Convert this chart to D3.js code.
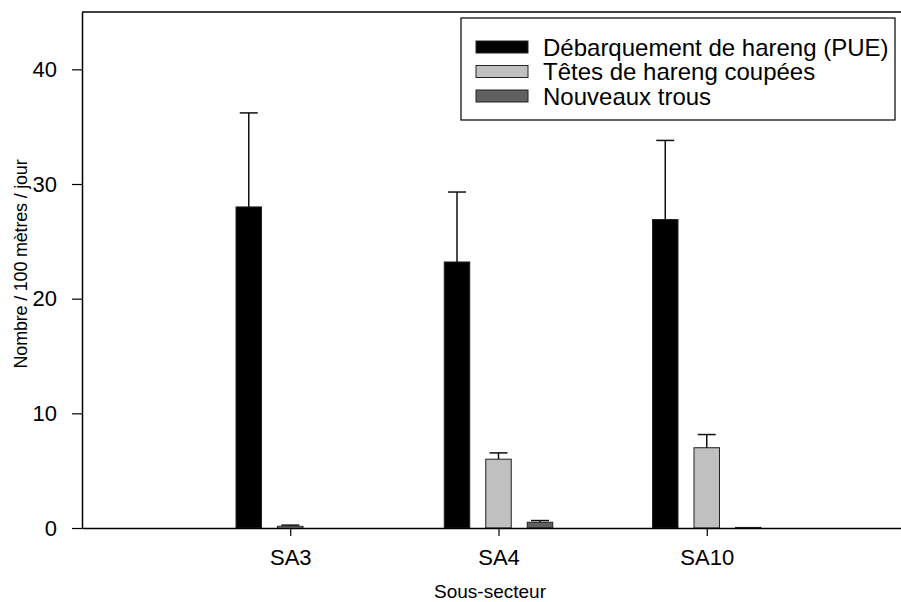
<!DOCTYPE html>
<html>
<head>
<meta charset="utf-8">
<script src="https://cdn.jsdelivr.net/npm/d3@7"></script>
<style>
  html, body { margin: 0; padding: 0; background: #fff; }
  svg { display: block; font-family: Arial, "Liberation Sans", sans-serif; }
</style>
</head>
<body>
<svg id="chart" width="901" height="602"></svg>
<script>
// Sub-areas and the three measured series (mean and upper error)
const categories = ["SA3", "SA4", "SA10"];
const seriesNames = ["Débarquement de hareng (PUE)", "Têtes de hareng coupées", "Nouveaux trous"];
const landings = [28.0, 23.2, 26.9];
const landingsErr = [8.2, 6.1, 6.9];
const heads = [0.15, 6.0, 7.0];
const headsErr = [0.1, 0.55, 1.15];
const holes = [0, 0.5, 0.05];
const holesErr = [0, 0.15, 0];
const yTicks = [0, 10, 20, 30, 40];
const seriesColors = ["#000000", "#c0c0c0", "#606060"];

const series = [
  { name: seriesNames[0], values: landings, errors: landingsErr, color: seriesColors[0] },
  { name: seriesNames[1], values: heads, errors: headsErr, color: seriesColors[1] },
  { name: seriesNames[2], values: holes, errors: holesErr, color: seriesColors[2] }
];

const svg = d3.select("#chart");
const plotLeft = 82, plotTop = 12, plotBottom = 528, plotRight = 915;

const x = d3.scalePoint().domain(categories).range([plotLeft, plotRight]).padding(1);
const inner = d3.scaleBand().domain(d3.range(series.length))
  .range([-62.25, 62.25]).paddingInner(0.386).paddingOuter(0.193);
const y = d3.scaleLinear().domain([0, 45]).range([plotBottom, plotTop]);

// Frame top line
svg.append("line").attr("x1", plotLeft).attr("x2", plotRight).attr("y1", plotTop).attr("y2", plotTop)
  .attr("stroke", "#000").attr("stroke-width", 1.5);

// Bars with upper error bars
const groups = svg.selectAll("g.series").data(series).enter().append("g").attr("class", "series");
groups.each(function(s, si) {
  const g = d3.select(this);
  categories.forEach((c, ci) => {
    const v = s.values[ci];
    if (v <= 0) return;
    const x0 = x(c) + inner(si);
    g.append("rect")
      .attr("x", x0).attr("width", inner.bandwidth())
      .attr("y", y(v)).attr("height", y(0) - y(v))
      .attr("fill", s.color).attr("stroke", "#222").attr("stroke-width", 1);
    const e = s.errors[ci];
    if (e > 0) {
      const cx = x0 + inner.bandwidth() / 2;
      g.append("line").attr("x1", cx).attr("x2", cx).attr("y1", y(v)).attr("y2", y(v + e))
        .attr("stroke", "#111").attr("stroke-width", 1.5);
      g.append("line").attr("x1", cx - 9).attr("x2", cx + 9).attr("y1", y(v + e)).attr("y2", y(v + e))
        .attr("stroke", "#111").attr("stroke-width", 1.5);
    }
  });
});

// Y axis
const yAxis = svg.append("g").attr("transform", `translate(${plotLeft},0)`)
  .call(d3.axisLeft(y).tickValues(yTicks).tickSize(10).tickPadding(15).tickSizeOuter(0));
yAxis.select(".domain").attr("stroke-width", 1.5);
yAxis.selectAll(".tick line").attr("stroke-width", 1.2);
yAxis.selectAll("text").attr("font-size", 22).attr("fill", "#000")
  .attr("font-family", "Arial, 'Liberation Sans', sans-serif");

// X axis
const xAxis = svg.append("g").attr("transform", `translate(0,${plotBottom})`)
  .call(d3.axisBottom(x).tickSize(8).tickPadding(13).tickSizeOuter(0));
xAxis.select(".domain").attr("stroke-width", 1.5);
xAxis.selectAll(".tick line").attr("stroke-width", 1.2);
xAxis.selectAll("text").attr("font-size", 22).attr("fill", "#000")
  .attr("font-family", "Arial, 'Liberation Sans', sans-serif");

// Axis titles
svg.append("text").attr("x", 490).attr("y", 598).attr("text-anchor", "middle")
  .attr("font-size", 19).text("Sous-secteur");
svg.append("text").attr("transform", "translate(27,264) rotate(-90)").attr("text-anchor", "middle")
  .attr("font-size", 18).attr("letter-spacing", -0.2).text("Nombre / 100 mètres / jour");

// Legend
const legend = svg.append("g");
legend.append("rect").attr("x", 461).attr("y", 18).attr("width", 434).attr("height", 102)
  .attr("fill", "#fff").attr("stroke", "#000").attr("stroke-width", 1.2);
const rowY = [47, 71.5, 96];
series.forEach((s, i) => {
  legend.append("rect").attr("x", 476).attr("y", rowY[i] - 6).attr("width", 52).attr("height", 12)
    .attr("fill", s.color).attr("stroke", "#222").attr("stroke-width", 1);
  legend.append("text").attr("x", 543).attr("y", rowY[i]).attr("dy", "0.36em")
    .attr("font-size", 24).text(s.name);
});
</script>
</body>
</html>
